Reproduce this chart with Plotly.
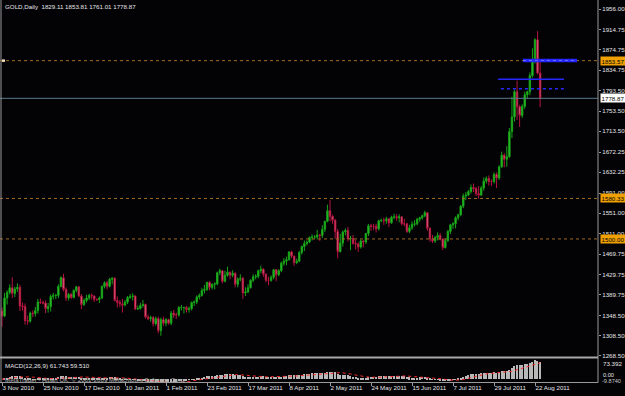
import plotly.graph_objects as go

# ---------------- data ----------------
opens = [
    1357, 1347, 1383, 1394, 1403, 1392, 1401, 1404, 1367, 1366,
    1338, 1337, 1353, 1352, 1358, 1375, 1374, 1373, 1362, 1366,
    1386, 1388, 1388, 1406, 1423, 1400, 1383, 1390, 1384, 1398,
    1405, 1387, 1370, 1378, 1383, 1388, 1387, 1380, 1380, 1383,
    1406, 1413, 1406, 1420, 1422, 1378, 1374, 1371, 1369, 1375,
    1384, 1386, 1387, 1361, 1362, 1368, 1370, 1345, 1342, 1344,
    1332, 1342, 1318, 1340, 1333, 1340, 1333, 1353, 1349, 1349,
    1364, 1364, 1364, 1360, 1362, 1374, 1375, 1385, 1388, 1398,
    1400, 1414, 1404, 1410, 1411, 1433, 1437, 1416, 1428, 1434,
    1428, 1432, 1410, 1420, 1422, 1393, 1395, 1403, 1418, 1425,
    1426, 1437, 1440, 1430, 1418, 1418, 1424, 1439, 1429, 1437,
    1452, 1456, 1459, 1474, 1466, 1453, 1456, 1473, 1485, 1491,
    1494, 1503, 1504, 1504, 1508, 1507, 1519, 1535, 1556, 1545,
    1537, 1515, 1475, 1492, 1514, 1517, 1500, 1501, 1491, 1490,
    1484, 1496, 1494, 1511, 1526, 1525, 1525, 1520, 1536, 1537,
    1536, 1540, 1532, 1543, 1544, 1542, 1544, 1530, 1530, 1515,
    1522, 1529, 1530, 1539, 1542, 1546, 1552, 1521, 1500, 1496,
    1503, 1507, 1500, 1483, 1497, 1515, 1528, 1530, 1542, 1548,
    1565, 1585, 1587, 1594, 1602, 1600, 1590, 1587, 1601, 1615,
    1620, 1614, 1614, 1628, 1621, 1643, 1666, 1658, 1663, 1713,
    1742, 1792, 1762, 1745, 1763, 1786, 1792, 1824, 1852, 1895,
    1829.11,
]
highs = [
    1364, 1393, 1398, 1410, 1424, 1405, 1412, 1409, 1374, 1372,
    1348, 1356, 1358, 1365, 1381, 1382, 1378, 1378, 1373, 1390,
    1393, 1391, 1410, 1426, 1431, 1404, 1393, 1393, 1400, 1407,
    1406, 1391, 1382, 1389, 1391, 1392, 1388, 1382, 1386, 1408,
    1416, 1417, 1423, 1424, 1424, 1386, 1379, 1381, 1379, 1387,
    1391, 1392, 1388, 1368, 1373, 1379, 1372, 1350, 1348, 1347,
    1346, 1346, 1344, 1346, 1343, 1342, 1357, 1359, 1354, 1367,
    1369, 1366, 1367, 1366, 1376, 1378, 1388, 1392, 1403, 1409,
    1415, 1416, 1412, 1414, 1435, 1441, 1438, 1437, 1445, 1436,
    1438, 1434, 1424, 1430, 1425, 1404, 1410, 1420, 1430, 1430,
    1439, 1447, 1442, 1432, 1425, 1428, 1440, 1440, 1440, 1455,
    1462, 1465, 1476, 1477, 1467, 1461, 1476, 1487, 1497, 1497,
    1505, 1509, 1508, 1518, 1510, 1527, 1536, 1568, 1577, 1548,
    1540, 1520, 1510, 1517, 1521, 1524, 1506, 1508, 1498, 1493,
    1499, 1497, 1512, 1530, 1530, 1530, 1530, 1538, 1540, 1542,
    1544, 1541, 1546, 1550, 1549, 1549, 1545, 1540, 1532, 1528,
    1535, 1537, 1542, 1544, 1548, 1556, 1553, 1523, 1508, 1506,
    1513, 1512, 1501, 1500, 1518, 1530, 1533, 1545, 1550, 1567,
    1590, 1593, 1597, 1608, 1610, 1603, 1605, 1605, 1622, 1624,
    1626, 1618, 1632, 1632, 1646, 1673, 1670, 1684, 1720, 1782,
    1796, 1814, 1766, 1767, 1792, 1794, 1830, 1878, 1898, 1912,
    1853.81,
]
lows = [
    1326, 1345, 1370, 1390, 1383, 1385, 1395, 1357, 1358, 1330,
    1330, 1334, 1345, 1346, 1352, 1371, 1370, 1353, 1354, 1356,
    1380, 1381, 1383, 1404, 1396, 1377, 1378, 1381, 1382, 1394,
    1385, 1361, 1367, 1374, 1379, 1380, 1375, 1377, 1373, 1381,
    1402, 1400, 1404, 1410, 1376, 1364, 1365, 1354, 1366, 1371,
    1381, 1378, 1359, 1359, 1360, 1364, 1342, 1339, 1336, 1326,
    1328, 1313, 1308, 1328, 1327, 1330, 1329, 1343, 1341, 1346,
    1358, 1352, 1354, 1354, 1358, 1367, 1371, 1380, 1386, 1392,
    1397, 1398, 1400, 1400, 1408, 1428, 1412, 1414, 1425, 1420,
    1424, 1404, 1404, 1416, 1381, 1387, 1393, 1402, 1414, 1420,
    1422, 1432, 1425, 1414, 1408, 1415, 1420, 1416, 1426, 1434,
    1447, 1448, 1457, 1462, 1447, 1450, 1454, 1469, 1476, 1487,
    1492, 1497, 1500, 1499, 1496, 1502, 1514, 1533, 1535, 1530,
    1500, 1462, 1473, 1485, 1507, 1495, 1478, 1489, 1479, 1474,
    1481, 1483, 1490, 1506, 1516, 1518, 1513, 1517, 1533, 1528,
    1530, 1524, 1530, 1539, 1536, 1533, 1527, 1525, 1512, 1512,
    1518, 1525, 1527, 1534, 1538, 1543, 1516, 1494, 1492, 1492,
    1497, 1497, 1478, 1481, 1494, 1510, 1520, 1521, 1537, 1545,
    1561, 1577, 1585, 1590, 1593, 1585, 1580, 1585, 1596, 1610,
    1606, 1605, 1610, 1601, 1617, 1641, 1642, 1643, 1661, 1700,
    1733, 1736, 1722, 1740, 1758, 1778, 1785, 1820, 1848, 1826,
    1761.01,
]
closes = [
    1347, 1383, 1394, 1403, 1392, 1401, 1404, 1367, 1366, 1338,
    1337, 1353, 1352, 1358, 1375, 1374, 1373, 1362, 1366, 1386,
    1388, 1388, 1406, 1423, 1400, 1383, 1390, 1384, 1398, 1405,
    1387, 1370, 1378, 1383, 1388, 1387, 1380, 1380, 1383, 1406,
    1413, 1406, 1420, 1422, 1378, 1374, 1371, 1369, 1375, 1384,
    1386, 1387, 1361, 1362, 1368, 1370, 1345, 1342, 1344, 1332,
    1342, 1318, 1340, 1333, 1340, 1333, 1353, 1349, 1349, 1364,
    1364, 1364, 1360, 1362, 1374, 1375, 1385, 1388, 1398, 1400,
    1414, 1404, 1410, 1411, 1433, 1437, 1416, 1428, 1434, 1428,
    1432, 1410, 1420, 1422, 1393, 1395, 1403, 1418, 1425, 1426,
    1437, 1440, 1430, 1418, 1418, 1424, 1439, 1429, 1437, 1452,
    1456, 1459, 1474, 1466, 1453, 1456, 1473, 1485, 1491, 1494,
    1503, 1504, 1504, 1508, 1507, 1519, 1535, 1556, 1545, 1537,
    1515, 1475, 1492, 1514, 1517, 1500, 1501, 1491, 1490, 1484,
    1496, 1494, 1511, 1526, 1525, 1525, 1520, 1536, 1537, 1536,
    1540, 1532, 1543, 1544, 1542, 1544, 1530, 1530, 1515, 1522,
    1529, 1530, 1539, 1542, 1546, 1552, 1521, 1500, 1496, 1503,
    1507, 1500, 1483, 1497, 1515, 1528, 1530, 1542, 1548, 1565,
    1585, 1587, 1594, 1602, 1600, 1590, 1587, 1601, 1615, 1620,
    1614, 1614, 1628, 1621, 1643, 1666, 1658, 1663, 1713, 1742,
    1792, 1762, 1745, 1763, 1786, 1792, 1824, 1852, 1895, 1829,
    1778.87,
]
assert len(opens) == len(highs) == len(lows) == len(closes) == 211

bar_index = list(range(len(closes)))

date_tick_bars = [0, 16, 32, 48, 64, 80, 96, 112, 128, 144, 160, 176, 192, 208]
date_tick_labels = ["3 Nov 2010", "25 Nov 2010", "17 Dec 2010", "10 Jan 2011",
                    "1 Feb 2011", "23 Feb 2011", "17 Mar 2011", "8 Apr 2011",
                    "2 May 2011", "24 May 2011", "15 Jun 2011", "7 Jul 2011",
                    "29 Jul 2011", "22 Aug 2011"]

price_ticks = [1956.00, 1914.75, 1874.75, 1834.75, 1793.50, 1753.50, 1713.50,
               1672.25, 1632.25, 1591.00, 1551.00, 1511.00, 1469.75, 1429.75,
               1389.75, 1348.50, 1308.50, 1268.50]

orange_levels = [1853.57, 1580.33, 1500.00]
bid_level = 1778.87

# user-drawn blue lines: price, first bar, last bar, style
blue_prices = [1853.9, 1816.6, 1798.0]
blue_start = [203.3, 193.6, 194.7]
blue_end = [224.4, 219.3, 220.5]
blue_dash = ["solid", "solid", "dot"]
blue_width = [3.5, 1.5, 1.5]

macd_fast, macd_slow, macd_sig = 12, 26, 9
macd_top_label, macd_bottom_label = 73.392, -9.874

# ---------------- MACD(12,26,9) of the close prices ----------------
def ema(vals, n):
    k = 2.0 / (n + 1)
    out = [vals[0]]
    for v in vals[1:]:
        out.append(out[-1] + k * (v - out[-1]))
    return out

e_fast = ema(closes, macd_fast)
e_slow = ema(closes, macd_slow)
macd_main = [a - b for a, b in zip(e_fast, e_slow)]
macd_signal = []
for i in range(len(macd_main)):
    w = macd_main[max(0, i - macd_sig + 1): i + 1]
    macd_signal.append(sum(w) / len(w))

# ---------------- layout helpers ----------------
W, H = 625, 396
BG = "#030306"
GREY = "#9a9a9a"
TXT = "#e6e6e6"
FONT = "Liberation Sans"
PLOT_RIGHT = 598
MAIN_BOTTOM = 357
MACD_TOP, MACD_BOTTOM = 359, 382

def px(x):
    return x / W

def py(y):
    return 1 - y / H

x_range = [-2 / 2.5625, (PLOT_RIGHT - 2) / 2.5625]
y_range = [1956.0 - (MAIN_BOTTOM - 9) * 1.983, 1956.0 + 9 * 1.983]

fig = go.Figure()

fig.add_trace(go.Candlestick(
    x=bar_index, open=opens, high=highs, low=lows, close=closes,
    increasing=dict(line=dict(color="#17a317", width=1), fillcolor="#34c834"),
    decreasing=dict(line=dict(color="#b3143e", width=1), fillcolor="#f492a6"),
    whiskerwidth=0, hoverinfo="skip", xaxis="x", yaxis="y",
))

fig.add_trace(go.Bar(
    x=bar_index, y=macd_main, width=0.45, marker=dict(color="#b8b8b8", line=dict(width=0)),
    xaxis="x2", yaxis="y2", hoverinfo="skip",
))
fig.add_trace(go.Scatter(
    x=bar_index, y=macd_signal, mode="lines",
    line=dict(color="#ff2a2a", width=1, dash="dot"),
    xaxis="x2", yaxis="y2", hoverinfo="skip",
))

shapes = []
for lv in orange_levels:
    shapes.append(dict(type="line", xref="paper", yref="y", x0=px(0), x1=px(PLOT_RIGHT),
                       y0=lv, y1=lv, line=dict(color="#a06a22", width=1, dash="dot")))
shapes.append(dict(type="line", xref="paper", yref="y", x0=px(0), x1=px(PLOT_RIGHT),
                   y0=bid_level, y1=bid_level, line=dict(color="#5a7b8c", width=1)))
for p, a, b, d, w in zip(blue_prices, blue_start, blue_end, blue_dash, blue_width):
    shapes.append(dict(type="line", xref="x", yref="y", x0=a, x1=b, y0=p, y1=p,
                       line=dict(color="#2626ff", width=w, dash=d)))
# light dotted highlight on the thick blue band
shapes.append(dict(type="line", xref="x", yref="y", x0=blue_start[0], x1=blue_end[0],
                   y0=blue_prices[0], y1=blue_prices[0],
                   line=dict(color="#6a6aff", width=1, dash="dot")))
# borders / panel separators
shapes += [
    dict(type="line", xref="paper", yref="paper", x0=px(1), x1=px(1), y0=py(0), y1=py(MACD_BOTTOM + 0.5),
         line=dict(color=GREY, width=1)),
    dict(type="line", xref="paper", yref="paper", x0=px(PLOT_RIGHT), x1=px(PLOT_RIGHT), y0=py(0),
         y1=py(MACD_BOTTOM + 0.5), line=dict(color=GREY, width=1)),
    dict(type="line", xref="paper", yref="paper", x0=px(0), x1=px(PLOT_RIGHT), y0=py(357.5), y1=py(357.5),
         line=dict(color="#a8a8a8", width=2)),
    dict(type="line", xref="paper", yref="paper", x0=px(0), x1=px(PLOT_RIGHT), y0=py(MACD_BOTTOM + 0.5),
         y1=py(MACD_BOTTOM + 0.5), line=dict(color=GREY, width=1)),
    dict(type="rect", xref="paper", yref="y", x0=px(2), x1=px(5), y0=orange_levels[0] - 2.5,
         y1=orange_levels[0] + 2.5, line=dict(width=0), fillcolor="#f4e0c0"),
]

annotations = [
    dict(text="GOLD,Daily  1829.11 1853.81 1761.01 1778.87", xref="paper", yref="paper",
         x=px(3), y=py(6.5), xanchor="left", yanchor="middle", showarrow=False,
         font=dict(family=FONT, size=6.2, color=TXT)),
    dict(text="MACD(12,26,9) 61.743 59.510", xref="paper", yref="paper",
         x=px(3), y=py(365), xanchor="left", yanchor="middle", showarrow=False,
         font=dict(family=FONT, size=6.2, color=TXT)),
    dict(text="MetaTrader - Alpari UK, \u00a9 2001-2009 MetaQuotes Software Corp.", xref="paper",
         yref="paper", x=px(3), y=py(379), xanchor="left", yanchor="middle", showarrow=False,
         font=dict(family=FONT, size=6.2, color="#b4b4b4")),
    dict(text=f"{macd_top_label:.3f}", xref="paper", yref="paper", x=px(601), y=py(363.5),
         xanchor="left", yanchor="middle", showarrow=False, font=dict(family=FONT, size=6.2, color=TXT)),
    dict(text="0.00", xref="paper", yref="paper", x=px(601), y=py(374.5),
         xanchor="left", yanchor="middle", showarrow=False, font=dict(family=FONT, size=5.6, color=TXT)),
    dict(text=f"{macd_bottom_label:.4f}", xref="paper", yref="paper", x=px(600),
         y=py(380.5), xanchor="left", yanchor="middle", showarrow=False,
         font=dict(family=FONT, size=5.6, color="#c8c8c8")),
]
label_boxes = [(orange_levels[0], "#f0a000"), (bid_level, "#ffffff"),
               (orange_levels[1], "#f0a000"), (orange_levels[2], "#f0a000")]
for lv, col in label_boxes:
    annotations.append(dict(text=f"{lv:.2f}", xref="paper", yref="y", x=px(599.5), y=lv,
                            xanchor="left", yanchor="middle", showarrow=False, bgcolor=col,
                            borderpad=0.5, font=dict(family=FONT, size=6.2, color="#000000")))

fig.update_layout(
    width=W, height=H, margin=dict(l=0, r=0, t=0, b=0, autoexpand=False),
    paper_bgcolor=BG, plot_bgcolor=BG, showlegend=False, bargap=0, boxgap=0.22,
    shapes=shapes, annotations=annotations,
    xaxis=dict(domain=[0, px(PLOT_RIGHT)], range=x_range, showticklabels=False, ticks="",
               showgrid=False, zeroline=False, showline=False, rangeslider=dict(visible=False),
               anchor="y", fixedrange=True, automargin=False),
    yaxis=dict(domain=[py(MAIN_BOTTOM), 1], range=y_range, side="right", anchor="x",
               tickvals=price_ticks, ticktext=[f"{v:.2f}" for v in price_ticks],
               ticks="outside", ticklen=2, tickcolor=GREY, showgrid=False, zeroline=False,
               showline=False, automargin=False,
               tickfont=dict(family=FONT, size=6.2, color=TXT)),
    xaxis2=dict(domain=[0, px(PLOT_RIGHT)], range=x_range, anchor="y2",
                tickvals=date_tick_bars, ticktext=date_tick_labels, ticks="outside", ticklen=3,
                tickcolor=GREY, ticklabelposition="outside right", tickangle=0, showgrid=False,
                zeroline=False, showline=False, automargin=False,
                tickfont=dict(family=FONT, size=6.2, color=TXT)),
    yaxis2=dict(domain=[py(MACD_BOTTOM), py(MACD_TOP)],
                range=[macd_bottom_label, macd_top_label], anchor="x2", showticklabels=False,
                ticks="", showgrid=False, zeroline=False, showline=False, automargin=False),
)

fig.write_html("out.html")
